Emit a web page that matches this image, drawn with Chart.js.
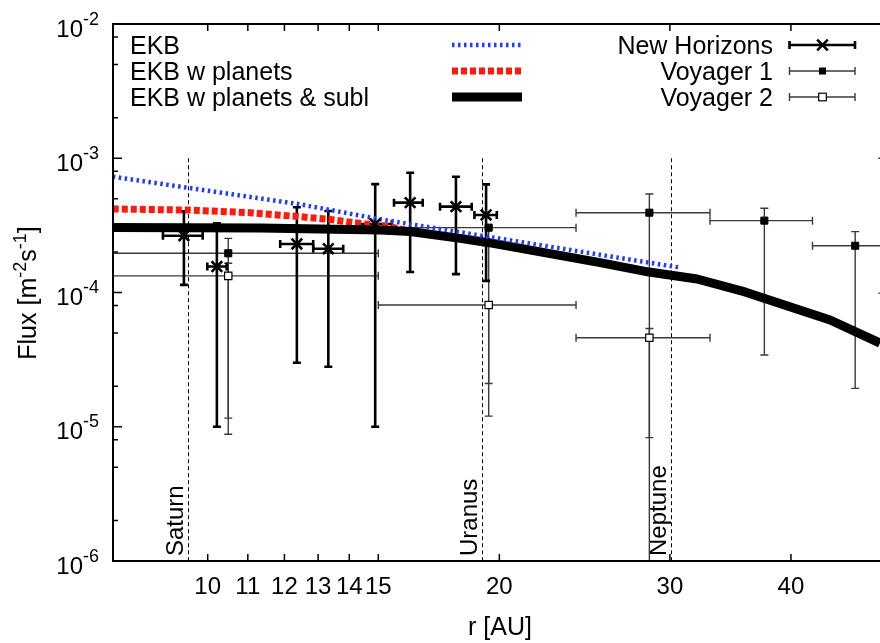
<!DOCTYPE html>
<html lang="en">
<head>
    <meta charset="UTF-8">
    <title>Flux vs r</title>
    <style>
        html, body { margin: 0; padding: 0; background: #fff; }
        canvas { display: block; }
    </style>
</head>
<body>
    <canvas id="chart" width="880" height="643"></canvas>

    <script src="https://cdn.jsdelivr.net/npm/chart.js"></script>
    <script>
        // model curves: r [AU] and flux [m^-2 s^-1]
        const ekbR = [7.98, 12.45, 15.0, 19.23, 30.6];
        const ekbFlux = [7.29e-4, 4.54e-4, 3.53e-4, 2.64e-4, 1.54e-4];
        const planetsR = [7.98, 9.53, 11.06, 12.45, 13.37, 14.36, 15.43, 16.18];
        const planetsFlux = [4.19e-4, 4.11e-4, 3.93e-4, 3.67e-4, 3.5e-4, 3.27e-4, 3.09e-4, 2.85e-4];
        const sublR = [7.98, 11.32, 15.07, 16.18, 18.22, 19.51, 25.41, 28.55, 32.0, 35.86, 43.9, 49.43];
        const sublFlux = [3.05e-4, 3.02e-4, 2.92e-4, 2.85e-4, 2.53e-4, 2.35e-4, 1.67e-4, 1.42e-4, 1.26e-4, 1.01e-4, 6.24e-5, 4.2e-5];

        // New Horizons
        const nhR = [9.45, 10.22, 12.36, 13.32, 14.89, 16.18, 18.04, 19.38];
        const nhRLo = [8.99, 9.99, 11.88, 12.85, 14.25, 15.57, 17.37, 18.85];
        const nhRHi = [9.88, 10.46, 12.85, 13.8, 15.49, 16.67, 18.73, 19.88];
        const nhFlux = [2.65e-4, 1.56e-4, 2.3e-4, 2.12e-4, 3.24e-4, 4.67e-4, 4.36e-4, 3.78e-4];
        const nhFluxLo = [1.14e-4, 1.0e-5, 3.0e-5, 2.8e-5, 1.0e-5, 1.42e-4, 1.37e-4, 1.22e-4];
        const nhFluxHi = [4.02e-4, 3.27e-4, 4.31e-4, 4.05e-4, 6.42e-4, 7.79e-4, 7.29e-4, 6.39e-4];

        // Voyager 1
        const v1R = [10.5, 19.5, 28.57, 37.55, 46.6, 49.7];
        const v1RLo = [7.0, 15.0, 24.0, 33.0, 42.1, 49.7];
        const v1RHi = [15.0, 24.0, 33.0, 42.1, 52.0, 49.7];
        const v1Flux = [1.96e-4, 3.04e-4, 3.93e-4, 3.43e-4, 2.23e-4, 3.2e-4];
        const v1FluxLo = [1.16e-5, 2.1e-5, 8.3e-6, 3.42e-5, 1.93e-5, 9.9e-5];
        const v1FluxHi = [2.53e-4, 3.1e-4, 5.42e-4, 4.24e-4, 2.84e-4, 1.0e-3];

        // Voyager 2
        const v2R = [10.5, 19.5, 28.57];
        const v2RLo = [7.0, 15.0, 24.0];
        const v2RHi = [15.0, 24.0, 33.0];
        const v2Flux = [1.33e-4, 8.07e-5, 4.6e-5];
        const v2FluxLo = [8.8e-6, 1.2e-5, 1e-7];
        const v2FluxHi = [1.65e-4, 8.1e-5, 5.4e-5];

        // planet orbits
        const planetNames = ['Saturn', 'Uranus', 'Neptune'];
        const planetOrbit = [9.54, 19.2, 30.1];

        // axes
        const xMin = 7.984, xMax = 49.43;
        const xTicks = [10, 11, 12, 13, 14, 15, 20, 30, 40];
        const yExponents = [-6, -5, -4, -3, -2];
        const yMinor = [2, 5, 8];
        const modelLabels = ['EKB', 'EKB w planets', 'EKB w planets & subl'];
        const dataLabels = ['New Horizons', 'Voyager 1', 'Voyager 2'];

        const FONT = "'Liberation Sans', Arial, Helvetica, sans-serif";
        const BLUE = 'rgb(30, 60, 255)';
        const RED = 'rgb(255, 25, 10)';
        const GREY = '#3a3a3a';
        const blueDash = [2.5, 3.5];
        const redDash = [6, 3];

        Chart.defaults.font.family = FONT;
        Chart.defaults.color = '#000';

        const pts = (xs, ys) => xs.map((v, i) => ({x: v, y: ys[i]}));
        // like gnuplot: symbols whose centre is outside the x range are not drawn
        const inRange = (xs, ys) => pts(xs, ys).filter(p => p.x >= xMin && p.x <= xMax);

        function drawBars(ctx, sx, sy, r, rLo, rHi, f, fLo, fHi, lw, color, cap) {
            ctx.lineWidth = lw;
            ctx.strokeStyle = color;
            ctx.setLineDash([]);
            ctx.lineCap = 'butt';
            for (let i = 0; i < r.length; i++) {
                const px = sx.getPixelForValue(r[i]), py = sy.getPixelForValue(f[i]);
                const x0 = sx.getPixelForValue(rLo[i]), x1 = sx.getPixelForValue(rHi[i]);
                const y0 = sy.getPixelForValue(fLo[i]), y1 = sy.getPixelForValue(fHi[i]);
                ctx.beginPath();
                if (x1 > x0) {
                    ctx.moveTo(x0, py); ctx.lineTo(x1, py);
                }
                ctx.moveTo(x0, py - cap); ctx.lineTo(x0, py + cap);
                ctx.moveTo(x1, py - cap); ctx.lineTo(x1, py + cap);
                ctx.moveTo(px, y0); ctx.lineTo(px, y1);
                ctx.moveTo(px - cap, y0); ctx.lineTo(px + cap, y0);
                ctx.moveTo(px - cap, y1); ctx.lineTo(px + cap, y1);
                ctx.stroke();
            }
        }

        function marker(ctx, kind, x, y) {
            ctx.setLineDash([]);
            if (kind === 'cross') {
                ctx.lineWidth = 2.6;
                ctx.strokeStyle = '#000';
                ctx.beginPath();
                ctx.moveTo(x - 5.3, y - 5.3); ctx.lineTo(x + 5.3, y + 5.3);
                ctx.moveTo(x - 5.3, y + 5.3); ctx.lineTo(x + 5.3, y - 5.3);
                ctx.stroke();
            } else if (kind === 'filled') {
                ctx.fillStyle = '#000';
                ctx.fillRect(x - 3.5, y - 3.5, 7, 7);
            } else {
                ctx.fillStyle = '#fff';
                ctx.fillRect(x - 3.8, y - 3.8, 7.6, 7.6);
                ctx.lineWidth = 1.2;
                ctx.strokeStyle = '#000';
                ctx.strokeRect(x - 3.8, y - 3.8, 7.6, 7.6);
            }
        }

        const underlay = {
            id: 'underlay',
            beforeDatasetsDraw(chart) {
                const {ctx, chartArea: a, scales: {x, y}} = chart;
                ctx.save();
                ctx.beginPath();
                ctx.rect(a.left, a.top, a.right - a.left, a.bottom - a.top);
                ctx.clip();

                // planet orbits
                ctx.lineWidth = 1;
                ctx.strokeStyle = '#000';
                ctx.setLineDash([4, 3]);
                ctx.font = '24px ' + FONT;
                ctx.fillStyle = '#000';
                planetOrbit.forEach((r, i) => {
                    const px = Math.round(x.getPixelForValue(r)) + 0.5;
                    ctx.beginPath();
                    ctx.moveTo(px, y.getPixelForValue(1e-3));
                    ctx.lineTo(px, y.getPixelForValue(1e-6));
                    ctx.stroke();
                    ctx.save();
                    ctx.translate(px - 6, a.bottom - 5);
                    ctx.rotate(-Math.PI / 2);
                    ctx.textAlign = 'left';
                    ctx.textBaseline = 'alphabetic';
                    ctx.fillText(planetNames[i], 0, 0);
                    ctx.restore();
                });

                drawBars(ctx, x, y, v2R, v2RLo, v2RHi, v2Flux, v2FluxLo, v2FluxHi, 1.4, GREY, 4);
                drawBars(ctx, x, y, v1R, v1RLo, v1RHi, v1Flux, v1FluxLo, v1FluxHi, 1.4, GREY, 4);
                drawBars(ctx, x, y, nhR, nhRLo, nhRHi, nhFlux, nhFluxLo, nhFluxHi, 2.6, '#000', 4);
                ctx.restore();
            }
        };

        const overlay = {
            id: 'overlay',
            afterDraw(chart) {
                const {ctx, chartArea: a, scales: {x, y}} = chart;
                ctx.save();
                ctx.setLineDash([]);
                ctx.strokeStyle = '#000';
                ctx.fillStyle = '#000';

                // frame (right side is cut off in the original)
                ctx.lineWidth = 2;
                ctx.beginPath();
                ctx.moveTo(chart.width, a.top);
                ctx.lineTo(a.left, a.top);
                ctx.lineTo(a.left, a.bottom);
                ctx.lineTo(chart.width, a.bottom);
                ctx.stroke();

                // ticks, pointing inwards
                ctx.lineWidth = 1.5;
                ctx.beginPath();
                xTicks.forEach(v => {
                    const px = x.getPixelForValue(v);
                    ctx.moveTo(px, a.bottom); ctx.lineTo(px, a.bottom - 7);
                    ctx.moveTo(px, a.top); ctx.lineTo(px, a.top + 7);
                });
                yExponents.forEach(e => {
                    const py = y.getPixelForValue(Math.pow(10, e));
                    ctx.moveTo(a.left, py); ctx.lineTo(a.left + 9, py);
                    if (e < yExponents[yExponents.length - 1]) {
                        yMinor.forEach(m => {
                            const pm = y.getPixelForValue(m * Math.pow(10, e));
                            ctx.moveTo(a.left, pm); ctx.lineTo(a.left + 5, pm);
                        });
                    }
                });
                ctx.stroke();

                // y tick labels 10^e
                ctx.textBaseline = 'alphabetic';
                ctx.textAlign = 'right';
                yExponents.forEach(e => {
                    const py = y.getPixelForValue(Math.pow(10, e));
                    const sup = String(e);
                    ctx.font = '18px ' + FONT;
                    const w = ctx.measureText(sup).width;
                    ctx.fillText(sup, 99, py + 0.5);
                    ctx.font = '24px ' + FONT;
                    ctx.fillText('10', 99 - w, py + 12.5);
                });

                // y axis title with superscripts
                const parts = [['Flux [m', false], ['-2', true], ['s', false], ['-1', true], [']', false]];
                const fnt = sup => (sup ? '18px ' : '25px ') + FONT;
                let total = 0;
                parts.forEach(p => { ctx.font = fnt(p[1]); total += ctx.measureText(p[0]).width; });
                ctx.save();
                ctx.translate(36, 293);
                ctx.rotate(-Math.PI / 2);
                ctx.textAlign = 'left';
                let cx = -total / 2;
                parts.forEach(p => {
                    ctx.font = fnt(p[1]);
                    ctx.fillText(p[0], cx, p[1] ? -10 : 0);
                    cx += ctx.measureText(p[0]).width;
                });
                ctx.restore();

                // x axis title
                ctx.font = '25px ' + FONT;
                ctx.textAlign = 'center';
                ctx.fillText('r [AU]', 500, 635);

                // legend, left block (models)
                ctx.font = '25px ' + FONT;
                ctx.textAlign = 'left';
                const rows = [45, 71, 97];
                modelLabels.forEach((t, i) => ctx.fillText(t, 130, rows[i] + 9));
                const styles = [[BLUE, 4.5, blueDash], [RED, 7, redDash], ['#000', 9, []]];
                styles.forEach((s, i) => {
                    ctx.strokeStyle = s[0];
                    ctx.lineWidth = s[1];
                    ctx.setLineDash(s[2]);
                    ctx.lineCap = 'butt';
                    ctx.beginPath();
                    ctx.moveTo(452, rows[i]);
                    ctx.lineTo(522, rows[i]);
                    ctx.stroke();
                });

                // legend, right block (measurements)
                ctx.setLineDash([]);
                ctx.textAlign = 'right';
                ctx.fillStyle = '#000';
                dataLabels.forEach((t, i) => ctx.fillText(t, 773, rows[i] + 9));
                const kinds = ['cross', 'filled', 'open'];
                kinds.forEach((k, i) => {
                    const yy = rows[i];
                    ctx.strokeStyle = i === 0 ? '#000' : GREY;
                    ctx.lineWidth = i === 0 ? 2.6 : 1.4;
                    ctx.beginPath();
                    ctx.moveTo(789.5, yy); ctx.lineTo(855, yy);
                    ctx.moveTo(789.5, yy - 4); ctx.lineTo(789.5, yy + 4);
                    ctx.moveTo(855, yy - 4); ctx.lineTo(855, yy + 4);
                    ctx.stroke();
                    marker(ctx, k, 822.5, yy);
                });
                ctx.restore();
            }
        };

        const ctx = document.getElementById('chart').getContext('2d');
        const chart = new Chart(ctx, {
            type: 'scatter',
            data: {
                datasets: [
                    {
                        label: dataLabels[0],
                        data: inRange(nhR, nhFlux),
                        pointStyle: 'crossRot',
                        pointRadius: 7.5,
                        pointBorderWidth: 2.6,
                        pointBorderColor: '#000',
                        pointBackgroundColor: '#000',
                        clip: 0,
                        order: 0
                    },
                    {
                        label: dataLabels[1],
                        data: inRange(v1R, v1Flux),
                        pointStyle: 'rect',
                        pointRadius: 5,
                        pointBorderWidth: 1,
                        pointBorderColor: '#000',
                        pointBackgroundColor: '#000',
                        clip: 0,
                        order: 0
                    },
                    {
                        label: dataLabels[2],
                        data: inRange(v2R, v2Flux),
                        pointStyle: 'rect',
                        pointRadius: 5.2,
                        pointBorderWidth: 1.2,
                        pointBorderColor: '#000',
                        pointBackgroundColor: '#fff',
                        clip: 0,
                        order: 0
                    },
                    {
                        type: 'line',
                        label: modelLabels[0],
                        data: pts(ekbR, ekbFlux),
                        showLine: true,
                        borderColor: BLUE,
                        borderWidth: 4.5,
                        borderDash: blueDash,
                        borderCapStyle: 'butt',
                        pointRadius: 0,
                        tension: 0,
                        fill: false,
                        clip: 0,
                        order: 1
                    },
                    {
                        type: 'line',
                        label: modelLabels[2],
                        data: pts(sublR, sublFlux),
                        showLine: true,
                        borderColor: '#000',
                        borderWidth: 9,
                        borderCapStyle: 'butt',
                        borderJoinStyle: 'round',
                        pointRadius: 0,
                        tension: 0,
                        fill: false,
                        clip: 0,
                        order: 2
                    },
                    {
                        type: 'line',
                        label: modelLabels[1],
                        data: pts(planetsR, planetsFlux),
                        showLine: true,
                        borderColor: RED,
                        borderWidth: 7,
                        borderDash: redDash,
                        borderCapStyle: 'butt',
                        pointRadius: 0,
                        tension: 0,
                        fill: false,
                        clip: 0,
                        order: 3
                    }
                ]
            },
            options: {
                responsive: false,
                animation: false,
                layout: { autoPadding: false, padding: { left: 113, top: 24, right: 0, bottom: 0 } },
                plugins: {
                    legend: { display: false },
                    tooltip: { enabled: false }
                },
                scales: {
                    x: {
                        type: 'logarithmic',
                        min: xMin,
                        max: xMax,
                        grid: { display: false, drawTicks: false },
                        border: { display: false },
                        afterBuildTicks: scale => {
                            scale.ticks = xTicks.map(v => ({ value: v }));
                        },
                        afterFit: scale => {
                            scale.height = 82;
                            scale.paddingLeft = 0;
                            scale.paddingRight = 0;
                        },
                        ticks: {
                            autoSkip: false,
                            maxRotation: 0,
                            padding: 12,
                            font: { size: 24, family: FONT },
                            color: '#000',
                            callback: v => String(v)
                        }
                    },
                    y: {
                        type: 'logarithmic',
                        display: false,
                        min: 1e-6,
                        max: 1e-2
                    }
                }
            },
            plugins: [underlay, overlay]
        });
    </script>
</body>
</html>
